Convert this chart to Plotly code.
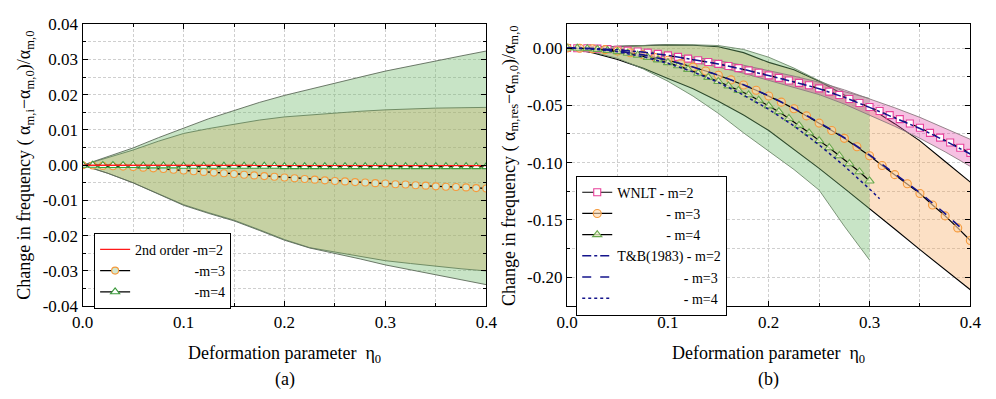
import plotly.graph_objects as go

# ---------------- data: panel (a) ----------------
eta_a = [round(0.01 * i, 2) for i in range(41)]
a_m2 = [0, 0, 0, 0, 0, 0, 0, 0, 0, 0, 0, 0, 0, 0, 0, 0, 0, 0, 0, 0, 0, 0, 0, 0, 0, 0,
        -0.0001, -0.0001, -0.0001, -0.0001, -0.0001, -0.0001, -0.0001, -0.0001, -0.0001, -0.0001, -0.0001, -0.0001,
        -0.0001, -0.0001, -0.0001]
a_m3 = [0, -0.0001, -0.0002, -0.0003, -0.0004, -0.0005, -0.0007, -0.0009, -0.0011, -0.0013, -0.0015, -0.0017,
        -0.0019, -0.0021, -0.0023, -0.0025, -0.0027, -0.0029, -0.0031, -0.0033, -0.0035, -0.0037, -0.0039, -0.0041,
        -0.0043, -0.0045, -0.0046, -0.0048, -0.0049, -0.0051, -0.0052, -0.0054, -0.0055, -0.0057, -0.0058, -0.0060,
        -0.0061, -0.0062, -0.0063, -0.0065, -0.0066]
a_m4 = [0, 0, -0.0001, -0.0001, -0.0001, -0.0001, -0.0002, -0.0002, -0.0002, -0.0002, -0.0003, -0.0003, -0.0003,
        -0.0003, -0.0003, -0.0003, -0.0003, -0.0003, -0.0003, -0.0003, -0.0004, -0.0004, -0.0004, -0.0004, -0.0004,
        -0.0004, -0.0004, -0.0004, -0.0004, -0.0004, -0.0004, -0.0004, -0.0004, -0.0004, -0.0004, -0.0004, -0.0004,
        -0.0004, -0.0004, -0.0004, -0.0004]

band_eta = [0, 0.025, 0.05, 0.075, 0.1, 0.125, 0.15, 0.175, 0.2, 0.225, 0.25, 0.275, 0.3, 0.325, 0.35, 0.375, 0.4]
a_outer_up = [0, 0.0024, 0.0049, 0.0078, 0.0106, 0.0132, 0.0155, 0.0178, 0.0198, 0.0216, 0.0232, 0.0250, 0.0267,
              0.0282, 0.0296, 0.0310, 0.0324]
a_outer_lo = [0, -0.0023, -0.0050, -0.0082, -0.0114, -0.0137, -0.0158, -0.0185, -0.0213, -0.0235, -0.0250, -0.0266,
              -0.0283, -0.0298, -0.0311, -0.0325, -0.0339]
a_inner_up = [0, 0.0022, 0.0043, 0.0068, 0.0090, 0.0104, 0.0117, 0.0128, 0.0137, 0.0143, 0.0148, 0.0153, 0.0157,
              0.0160, 0.0162, 0.0163, 0.0164]
a_inner_lo = [0, -0.0023, -0.0050, -0.0081, -0.0112, -0.0135, -0.0156, -0.0183, -0.0211, -0.0234, -0.0247, -0.0260,
              -0.0271, -0.0279, -0.0287, -0.0294, -0.0300]

# ---------------- data: panel (b) ----------------
eta_sq = [round(0.01 * i, 2) for i in range(41)]
wnlt_m2 = [0, -0.0001, -0.0002, -0.0005, -0.0009, -0.0015, -0.0022, -0.0030, -0.0040, -0.0051, -0.0064, -0.0077,
           -0.0092, -0.0107, -0.0122, -0.0138, -0.0156, -0.0175, -0.0195, -0.0216, -0.0238, -0.0260, -0.0283,
           -0.0304, -0.0325, -0.0352, -0.0380, -0.0410, -0.0445, -0.0480, -0.0515, -0.0550, -0.0585, -0.0620,
           -0.0658, -0.0696, -0.0740, -0.0782, -0.0825, -0.0870, -0.0915]
eta_ci = [round(0.0125 * i, 4) for i in range(33)]
wnlt_m3 = [0, -0.0002, -0.0006, -0.0014, -0.0026, -0.0041, -0.0059, -0.0082, -0.0107, -0.0135, -0.0166, -0.0200,
           -0.0237, -0.0278, -0.0322, -0.0368, -0.0418, -0.0472, -0.0530, -0.0592, -0.0655, -0.0720, -0.0788,
           -0.0862, -0.0940, -0.1025, -0.1105, -0.1185, -0.1270, -0.1370, -0.1465, -0.1570, -0.1680]
eta_tr = [round(0.01 * i, 2) for i in range(31)]
wnlt_m4 = [0, -0.0001, -0.0005, -0.0011, -0.0020, -0.0031, -0.0045, -0.0062, -0.0081, -0.0103, -0.0127, -0.0155,
           -0.0186, -0.0220, -0.0256, -0.0292, -0.0330, -0.0369, -0.0408, -0.0455, -0.0505, -0.0555, -0.0615,
           -0.0675, -0.0740, -0.0808, -0.0870, -0.0940, -0.1010, -0.1080, -0.1160]

tb_eta2 = band_eta
tb_m2 = [0, -0.0003, -0.0015, -0.0035, -0.0064, -0.0099, -0.0139, -0.0186, -0.0240, -0.0295, -0.0355, -0.0430,
         -0.0518, -0.0607, -0.0702, -0.0810, -0.0925]
tb_eta3 = [0, 0.025, 0.05, 0.075, 0.1, 0.125, 0.15, 0.175, 0.2, 0.225, 0.25, 0.275, 0.3, 0.325, 0.35, 0.375, 0.395]
tb_m3 = [0, -0.0006, -0.0026, -0.0059, -0.0106, -0.0165, -0.0236, -0.0320, -0.0416, -0.0527, -0.0650, -0.0783,
         -0.0932, -0.1095, -0.1262, -0.1445, -0.1605]
tb_eta4 = [0, 0.025, 0.05, 0.075, 0.1, 0.125, 0.15, 0.175, 0.2, 0.225, 0.25, 0.275, 0.3, 0.31]
tb_m4 = [0, -0.0008, -0.0033, -0.0075, -0.0133, -0.0208, -0.0300, -0.0410, -0.0535, -0.0680, -0.0845, -0.1030,
         -0.1230, -0.1315]

b3_up = [0, 0.0008, 0.0018, 0.0025, 0.0028, 0.0025, 0.0012, -0.0040, -0.0125, -0.0190, -0.0290, -0.0410, -0.0520,
         -0.0660, -0.0810, -0.0990, -0.1170]
b3_lo = [0, -0.0040, -0.0100, -0.0175, -0.0265, -0.0355, -0.0465, -0.0585, -0.0720, -0.0885, -0.1050, -0.1225,
         -0.1400, -0.1580, -0.1760, -0.1935, -0.2110]
band4_eta = band_eta[:13]
b4_up = [0, 0.0008, 0.0020, 0.0027, 0.0030, 0.0029, 0.0022, -0.0012, -0.0080, -0.0175, -0.0285, -0.0380, -0.0440]
b4_lo = [0, -0.0035, -0.0090, -0.0180, -0.0290, -0.0420, -0.0570, -0.0740, -0.0900, -0.1060, -0.1240, -0.1555,
         -0.1850]
b2_up = [0, -0.0001, -0.0009, -0.0025, -0.0048, -0.0078, -0.0110, -0.0150, -0.0196, -0.0245, -0.0298, -0.0365,
         -0.0444, -0.0521, -0.0605, -0.0700, -0.0797]
b2_lo = [0, -0.0005, -0.0021, -0.0045, -0.0080, -0.0120, -0.0166, -0.0220, -0.0280, -0.0341, -0.0406, -0.0489,
         -0.0586, -0.0683, -0.0788, -0.0906, -0.1033]

x_tickvals = [0.0, 0.1, 0.2, 0.3, 0.4]
x_ticktext = ["0.0", "0.1", "0.2", "0.3", "0.4"]
ya_tickvals = [0.04, 0.03, 0.02, 0.01, 0.0, -0.01, -0.02, -0.03, -0.04]
ya_ticktext = ["0.04", "0.03", "0.02", "0.01", "0.00", "-0.01", "-0.02", "-0.03", "-0.04"]
yb_tickvals = [0.0, -0.05, -0.10, -0.15, -0.20]
yb_ticktext = ["0.00", "-0.05", "-0.10", "-0.15", "-0.20"]

# ---------------- styles ----------------
FONT = "Liberation Serif, Times New Roman, serif"
GREEN_FILL = "rgba(118,188,113,0.40)"
ORANGE_FILL = "rgba(245,165,85,0.34)"
PINK_FILL = "rgba(230,70,170,0.34)"
NAVY = "#14148c"
NB = "\u00a0"

fig = go.Figure()


def band(x, up, lo, fill, edge, xa, ya, ew=1):
    fig.add_trace(go.Scatter(x=list(x) + list(x)[::-1], y=list(up) + list(lo)[::-1], fill="toself",
                             fillcolor=fill, line=dict(width=0), mode="lines", showlegend=False,
                             hoverinfo="skip", xaxis=xa, yaxis=ya))
    for yy in (up, lo):
        fig.add_trace(go.Scatter(x=x, y=yy, mode="lines", line=dict(color=edge, width=ew),
                                 showlegend=False, hoverinfo="skip", xaxis=xa, yaxis=ya))


# ---- panel (a) bands (orange first, green over it -> olive overlap) ----
band(band_eta, a_inner_up, a_inner_lo, ORANGE_FILL, "#5d6050", "x", "y", 0.9)
band(band_eta, a_outer_up, a_outer_lo, GREEN_FILL, "#5d6b5a", "x", "y", 0.9)

# ---- panel (a) series ----
fig.add_trace(go.Scatter(x=eta_a, y=a_m3, mode="lines+markers", name=NB * 17 + "-m=3", legendrank=2,
                         line=dict(color="black", width=1.2),
                         marker=dict(symbol="circle", size=7, color="#d2e6cf",
                                     line=dict(color="#f59a3c", width=1.1)),
                         xaxis="x", yaxis="y", legend="legend"))
fig.add_trace(go.Scatter(x=eta_a, y=a_m4, mode="lines+markers", name=NB * 17 + "-m=4", legendrank=3,
                         line=dict(color="black", width=1.2),
                         marker=dict(symbol="triangle-up", size=8, color="white",
                                     line=dict(color="#3c9a3c", width=1.1)),
                         xaxis="x", yaxis="y", legend="legend"))
fig.add_trace(go.Scatter(x=eta_a, y=a_m2, mode="lines", name="2nd order -m=2", legendrank=1,
                         line=dict(color="#ff1a1a", width=1.4), xaxis="x", yaxis="y", legend="legend"))

# ---- panel (b) bands ----
band(band_eta, b3_up, b3_lo, ORANGE_FILL, "black", "x2", "y2", 1.1)
band(band4_eta, b4_up, b4_lo, GREEN_FILL, "#6f8a6c", "x2", "y2", 0.9)
band(band_eta, b2_up, b2_lo, PINK_FILL, "#8a7a80", "x2", "y2", 0.9)

# ---- panel (b) series ----
fig.add_trace(go.Scatter(x=eta_sq, y=wnlt_m2, mode="lines+markers", name="WNLT - m=2",
                         line=dict(color="black", width=1.2),
                         marker=dict(symbol="square", size=7, color="white",
                                     line=dict(color="#e8409a", width=1.1)),
                         xaxis="x2", yaxis="y2", legend="legend2"))
fig.add_trace(go.Scatter(x=eta_ci, y=wnlt_m3, mode="lines+markers", name=NB * 14 + "- m=3",
                         line=dict(color="black", width=1.2),
                         marker=dict(symbol="circle", size=8, color="rgba(255,215,170,0.6)",
                                     line=dict(color="#f59a3c", width=1.1)),
                         xaxis="x2", yaxis="y2", legend="legend2"))
fig.add_trace(go.Scatter(x=eta_tr, y=wnlt_m4, mode="lines+markers", name=NB * 14 + "- m=4",
                         line=dict(color="black", width=1.2),
                         marker=dict(symbol="triangle-up", size=8, color="rgba(235,240,200,0.8)",
                                     line=dict(color="#6aa84f", width=1.1)),
                         xaxis="x2", yaxis="y2", legend="legend2"))
fig.add_trace(go.Scatter(x=tb_eta2, y=tb_m2, mode="lines", name="T&B(1983) - m=2",
                         line=dict(color=NAVY, width=1.5, dash="dashdot"),
                         xaxis="x2", yaxis="y2", legend="legend2"))
fig.add_trace(go.Scatter(x=tb_eta3, y=tb_m3, mode="lines", name=NB * 19 + "- m=3",
                         line=dict(color=NAVY, width=1.6, dash="dash"),
                         xaxis="x2", yaxis="y2", legend="legend2"))
fig.add_trace(go.Scatter(x=tb_eta4, y=tb_m4, mode="lines", name=NB * 19 + "- m=4",
                         line=dict(color=NAVY, width=1.5, dash="dot"),
                         xaxis="x2", yaxis="y2", legend="legend2"))

W, H = 996, 399
GRID = "#cfcfcf"
axis_common = dict(showline=True, mirror="allticks", linecolor="black", linewidth=1.4,
                   ticks="inside", ticklen=5, tickwidth=1, tickcolor="black",
                   showgrid=True, gridcolor=GRID, gridwidth=0.8, griddash="3px,2px",
                   zeroline=False, tickfont=dict(family=FONT, size=17, color="black"))


def minor(d):
    return dict(dtick=d, tick0=0, ticks="inside", ticklen=3, tickcolor="black",
                showgrid=True, gridcolor=GRID, gridwidth=0.8, griddash="3px,2px")


fig.update_layout(
    width=W, height=H, margin=dict(l=0, r=0, t=0, b=0),
    plot_bgcolor="white", paper_bgcolor="white",
    font=dict(family=FONT, size=16, color="black"),
    xaxis=dict(domain=[73.3 / W, 486 / W], range=[0, 0.4], anchor="y",
               tickvals=x_tickvals, ticktext=x_ticktext, minor=minor(0.05), **axis_common),
    yaxis=dict(domain=[1 - 312 / H, 1 - 16 / H], range=[-0.04, 0.04], anchor="x",
               tickvals=ya_tickvals, ticktext=ya_ticktext, minor=minor(0.005), **axis_common),
    xaxis2=dict(domain=[568.7 / W, 981 / W], range=[0, 0.4], anchor="y2",
                tickvals=x_tickvals, ticktext=x_ticktext, minor=minor(0.05), **axis_common),
    yaxis2=dict(domain=[1 - 312 / H, 1 - 16 / H], range=[-0.2253, 0.0208], anchor="x2",
                tickvals=yb_tickvals, ticktext=yb_ticktext, minor=minor(0.025), **axis_common),
    legend=dict(x=85 / W, y=1 - 235 / H, xanchor="left", yanchor="top",
                bgcolor="white", bordercolor="black", borderwidth=1, traceorder="normal",
                font=dict(family=FONT, size=14), tracegroupgap=0, itemwidth=30),
    legend2=dict(x=578 / W, y=1 - 175 / H, xanchor="left", yanchor="top",
                 bgcolor="white", bordercolor="black", borderwidth=1,
                 font=dict(family=FONT, size=14), tracegroupgap=0, itemwidth=30),
    showlegend=True,
)

ann_font = dict(family=FONT, size=18, color="black")


def ann(x, y, text, angle=0):
    fig.add_annotation(x=x / W, y=1 - y / H, xref="paper", yref="paper", textangle=angle,
                       showarrow=False, xanchor="center", yanchor="middle", text=text, font=ann_font)


ann(15, 164, "Change in frequency ( α<sub>m,i</sub>−α<sub>m,0</sub>)/α<sub>m,0</sub>", -90)
ann(510, 164, "Change in frequency ( α<sub>m,res</sub>−α<sub>m,0</sub>)/α<sub>m,0</sub>", -90)
ann(280, 363, "Deformation parameter  η<sub>0</sub>")
ann(775, 363, "Deformation parameter  η<sub>0</sub>")
ann(280, 389, "(a)")
ann(775, 389, "(b)")

fig.write_html("out.html")
